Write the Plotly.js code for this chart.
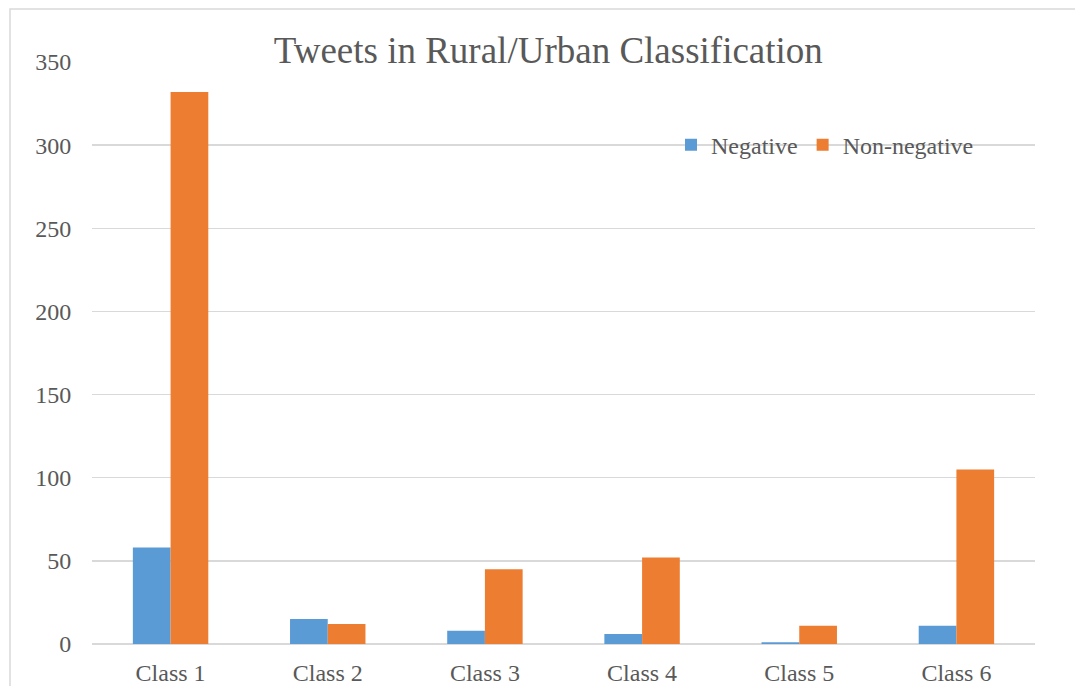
<!DOCTYPE html>
<html>
<head>
<meta charset="utf-8">
<script src="https://cdn.plot.ly/plotly-3.0.1.min.js"></script>
<style>html,body{margin:0;padding:0;background:#fff;}#chart{width:1075px;height:686px;}</style>
</head>
<body>
<div id="chart"></div>
<script>
const categories = ["Class 1", "Class 2", "Class 3", "Class 4", "Class 5", "Class 6"];
const negativeValues = [58, 15, 8, 6, 1, 11];
const nonNegativeValues = [332, 12, 45, 52, 11, 105];
const yTickValues = [0, 50, 100, 150, 200, 250, 300, 350];
const chartTitle = "Tweets in Rural/Urban Classification";

const font = "Liberation Serif, Times New Roman, serif";
const textColor = "#595959";

const traces = [
  {type: "bar", name: "Negative", x: categories, y: negativeValues,
   marker: {color: "#5B9BD5"}, hoverinfo: "x+y+name"},
  {type: "bar", name: "Non-negative", x: categories, y: nonNegativeValues,
   marker: {color: "#ED7D31"}, hoverinfo: "x+y+name"}
];

const layout = {
  width: 1075, height: 686,
  margin: {l: 92, r: 40, t: 62, b: 42, pad: 0},
  paper_bgcolor: "#fff", plot_bgcolor: "#fff",
  font: {family: font, color: textColor, size: 24},
  title: {text: chartTitle, font: {family: font, size: 37, color: textColor},
          x: 0.51, xanchor: "center", y: 0.927, yanchor: "middle"},
  barmode: "group", bargap: 0.52, bargroupgap: 0,
  showlegend: true,
  legend: {orientation: "h", x: 0.614, xanchor: "left", y: 0.857, yanchor: "middle",
           font: {family: font, size: 24, color: textColor}, bgcolor: "rgba(0,0,0,0)",
           traceorder: "normal"},
  xaxis: {type: "category", showgrid: false, zeroline: false, showline: false,
          ticks: "outside", ticklen: 7, tickcolor: "rgba(0,0,0,0)",
          tickfont: {family: font, size: 24, color: textColor}},
  yaxis: {range: [0, 350], tickvals: yTickValues, ticktext: yTickValues.map(String),
          showgrid: true, gridcolor: "#d9d9d9", gridwidth: 1.5, zeroline: true,
          zerolinecolor: "#d9d9d9", zerolinewidth: 1.5, showline: false,
          ticks: "outside", ticklen: 15, tickcolor: "rgba(0,0,0,0)",
          tickfont: {family: font, size: 24, color: textColor}},
  shapes: [{type: "rect", xref: "paper", yref: "paper",
            x0: (10 - 92) / 943, x1: 1.2, y0: -0.2, y1: (644 - 9) / 582,
            line: {color: "#d9d9d9", width: 1.5}, fillcolor: "rgba(0,0,0,0)", layer: "below"}]
};

Plotly.newPlot("chart", traces, layout, {displayModeBar: false, staticPlot: true});
</script>
</body>
</html>
